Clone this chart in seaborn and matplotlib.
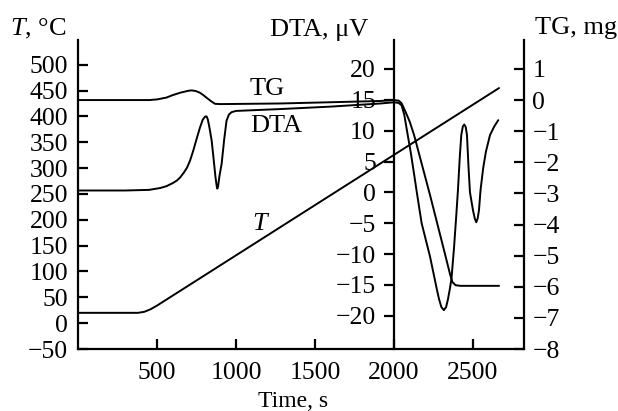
import matplotlib
matplotlib.use('Agg')
import matplotlib.pyplot as plt
import seaborn as sns

# Temperature programme, deg C
t_time = [0, 380, 420, 460, 500, 2665]
t_temp = [20, 20, 22, 27, 34, 455]

# DTA signal, microvolt
dta_time = [0, 300, 450, 520, 560, 600, 625, 646, 670, 690, 710, 730, 750, 772,
            790, 805, 814, 822, 832, 846, 858, 870, 878, 882, 887, 895, 909, 925,
            940, 955, 972, 1000, 1278, 1600, 1911, 2000, 2030, 2048, 2065, 2085,
            2106, 2127, 2147, 2175, 2228, 2272, 2285, 2300, 2316, 2330, 2342,
            2354, 2364, 2380, 2395, 2405, 2416, 2426, 2436, 2445, 2454, 2462,
            2472, 2481, 2500, 2512, 2521, 2530, 2538, 2548, 2565, 2582, 2608,
            2635, 2660]
dta_val = [0.3, 0.3, 0.4, 0.7, 1.0, 1.5, 1.9, 2.4, 3.2, 4.0, 5.2, 6.8, 8.6, 10.5,
           11.8, 12.3, 12.3, 11.8, 10.5, 8.4, 5.5, 2.5, 1.0, 0.6, 1.0, 2.6, 4.6,
           8.5, 11.6, 12.6, 13.0, 13.2, 13.5, 13.9, 14.4, 14.6, 14.5, 14.1, 12.6,
           9.6, 6.5, 3.0, -0.4, -5.0, -10.4, -15.8, -17.3, -18.6, -19.1, -18.6,
           -17.3, -15.6, -14.0, -9.0, -3.5, 0.4, 5.5, 9.3, 10.7, 11.0, 10.6, 9.3,
           4.0, 0.0, -2.9, -4.3, -4.85, -4.2, -2.9, 0.4, 4.0, 6.6, 9.3, 10.7,
           11.7]

# Mass change, mg
tg_time = [0, 450, 500, 560, 600, 650, 700, 720, 745, 770, 793, 820, 846, 867,
           900, 1278, 1600, 1911, 2000, 2030, 2048, 2075, 2100, 2127, 2228,
           2327, 2355, 2370, 2390, 2420, 2665]
tg_val = [0.0, 0.0, 0.02, 0.08, 0.16, 0.24, 0.30, 0.31, 0.29, 0.24, 0.16, 0.05,
          -0.05, -0.12, -0.13, -0.11, -0.07, -0.03, 0.0, -0.02, -0.1, -0.4,
          -0.7, -1.12, -3.05, -5.03, -5.6, -5.85, -5.95, -5.97, -5.97]

x_ticks = [500, 1000, 1500, 2000, 2500]
t_ticks = list(range(-50, 501, 50))
dta_ticks = list(range(-20, 21, 5))
tg_ticks = list(range(-8, 2))

sns.set_theme(style='ticks', rc={'axes.edgecolor': 'black', 'xtick.color': 'black',
                                 'ytick.color': 'black', 'text.color': 'black',
                                 'axes.labelcolor': 'black'})
plt.rcParams['font.family'] = ['Liberation Serif', 'DejaVu Serif']
plt.rcParams['mathtext.fontset'] = 'custom'
plt.rcParams['mathtext.rm'] = 'Liberation Serif'
plt.rcParams['mathtext.it'] = 'Liberation Serif:italic'

W, H = 618, 411
fig = plt.figure(figsize=(W / 100, H / 100), dpi=100)
ax = fig.add_axes([78 / W, 1 - 349 / H, (524 - 78) / W, (349 - 40) / H])
ax_dta = ax.twinx()
ax_tg = ax.twinx()

lw = 1.4
sns.lineplot(x=t_time, y=t_temp, ax=ax, color='black', lw=lw, estimator=None)
sns.lineplot(x=dta_time, y=dta_val, ax=ax_dta, color='black', lw=lw, estimator=None)
sns.lineplot(x=tg_time, y=tg_val, ax=ax_tg, color='black', lw=lw, estimator=None)

ax.set_xlim(0, 2823)
ax.set_ylim(-50, 548)
ax_dta.set_ylim(-25.4, 24.7)
ax_tg.set_ylim(-8, 1.93)

tick_fs = 18.5
spine_w = 1.6

ax.set_xticks(x_ticks)
ax.set_yticks(t_ticks)
ax.tick_params(axis='both', direction='in', length=7, width=spine_w,
               labelsize=tick_fs, pad=7)
ax.tick_params(axis='x', pad=9)
for s in ['top', 'right']:
    ax.spines[s].set_visible(False)
for s in ['left', 'bottom']:
    ax.spines[s].set_linewidth(spine_w)

# DTA axis sits on the 2000 s line
for s in ['top', 'right', 'bottom']:
    ax_dta.spines[s].set_visible(False)
ax_dta.spines['left'].set_visible(True)
ax_dta.spines['left'].set_position(('data', 2000))
ax_dta.spines['left'].set_linewidth(spine_w)
ax_dta.yaxis.set_ticks_position('left')
ax_dta.yaxis.set_label_position('left')
ax_dta.set_yticks(dta_ticks)
ax_dta.tick_params(axis='y', direction='out', length=7, width=spine_w,
                   labelsize=tick_fs, pad=6)

for s in ['top', 'left', 'bottom']:
    ax_tg.spines[s].set_visible(False)
ax_tg.spines['right'].set_linewidth(spine_w)
ax_tg.set_yticks(tg_ticks)
ax_tg.tick_params(axis='y', direction='in', length=7, width=spine_w,
                  labelsize=tick_fs, pad=6)

for a in (ax, ax_dta, ax_tg):
    a.set_xlabel('')
    a.set_ylabel('')


def px(x, y):
    return x / W, 1 - y / H


lab_fs = 19
fig.text(*px(10, 35), r'$T$, °C', fontsize=lab_fs, va='baseline', ha='left')
fig.text(*px(270, 36), 'DTA, μV', fontsize=lab_fs, va='baseline', ha='left')
fig.text(*px(535, 34), 'TG, mg', fontsize=lab_fs, va='baseline', ha='left')
fig.text(*px(293, 407), 'Time, s', fontsize=17, va='baseline', ha='center')

fig.text(*px(250, 95), 'TG', fontsize=lab_fs, va='baseline', ha='left')
fig.text(*px(250, 132), 'DTA', fontsize=lab_fs, va='baseline', ha='left')
fig.text(*px(252, 230), 'T', fontsize=lab_fs, va='baseline', ha='left',
         fontstyle='italic')

fig.savefig('out.png', dpi=100)
